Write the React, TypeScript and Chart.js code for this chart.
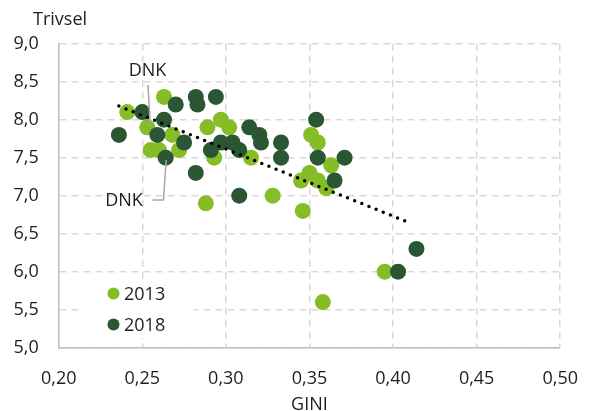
import { useEffect, useRef } from "react";
import { Chart, registerables } from "chart.js";
Chart.register(...registerables);

const gini2013 = [0.241, 0.263, 0.253, 0.268, 0.255, 0.260, 0.272, 0.289, 0.297, 0.302, 0.288, 0.315, 0.293, 0.328, 0.351, 0.355, 0.363, 0.345, 0.350, 0.355, 0.360, 0.346, 0.395, 0.358];
const trivsel2013 = [8.1, 8.3, 7.9, 7.8, 7.6, 7.6, 7.6, 7.9, 8.0, 7.9, 6.9, 7.5, 7.5, 7.0, 7.8, 7.7, 7.4, 7.2, 7.3, 7.2, 7.1, 6.8, 6.0, 5.6];
const gini2018 = [0.250, 0.236, 0.270, 0.282, 0.283, 0.294, 0.263, 0.259, 0.275, 0.264, 0.282, 0.308, 0.314, 0.291, 0.297, 0.304, 0.308, 0.320, 0.321, 0.333, 0.333, 0.354, 0.355, 0.371, 0.365, 0.414, 0.403];
const trivsel2018 = [8.1, 7.8, 8.2, 8.3, 8.2, 8.3, 8.0, 7.8, 7.7, 7.5, 7.3, 7.0, 7.9, 7.6, 7.7, 7.7, 7.6, 7.8, 7.7, 7.7, 7.5, 8.0, 7.5, 7.5, 7.2, 6.3, 6.0];
const trendGini = [0.236, 0.408];
const trendTrivsel = [8.18, 6.66];
const seriesLabels = ["2013", "2018"];
const dnkIndex2013 = 2;
const dnkIndex2018 = 9;

const LIGHT = "#86bc25";
const DARK = "#2a5634";
const TEXT = "#1e1e1e";
const FONT = "'Open Sans', sans-serif";

export default function App() {
  const ref = useRef<HTMLCanvasElement>(null);
  useEffect(() => {
    const overlay = {
      id: "overlay",
      afterDatasetsDraw(chart: any) {
        const ctx = chart.ctx;
        const xs = chart.scales.x;
        const ys = chart.scales.y;
        ctx.save();
        // legend box
        ctx.fillStyle = "#ffffff";
        ctx.fillRect(78, 280, 115, 58);
        const legendItems = [
          { label: seriesLabels[0], color: LIGHT, y: 293.5 },
          { label: seriesLabels[1], color: DARK, y: 324.5 },
        ];
        ctx.font = `18px ${FONT}`;
        ctx.textBaseline = "middle";
        ctx.textAlign = "left";
        for (const it of legendItems) {
          ctx.fillStyle = it.color;
          ctx.beginPath();
          ctx.arc(113.5, it.y, 6, 0, Math.PI * 2);
          ctx.fill();
          ctx.fillStyle = TEXT;
          ctx.fillText(it.label, 124, it.y + 1);
        }
        // DNK annotations
        const p13x = xs.getPixelForValue(gini2013[dnkIndex2013]);
        const p13y = ys.getPixelForValue(trivsel2013[dnkIndex2013]);
        const p18x = xs.getPixelForValue(gini2018[dnkIndex2018]);
        const p18y = ys.getPixelForValue(trivsel2018[dnkIndex2018]);
        ctx.strokeStyle = "#a6a6a6";
        ctx.lineWidth = 1.5;
        ctx.beginPath();
        ctx.moveTo(148, 85);
        ctx.lineTo(p13x + 3, p13y - 1);
        ctx.stroke();
        ctx.beginPath();
        ctx.moveTo(152.5, 200);
        ctx.lineTo(163.5, 200);
        ctx.lineTo(p18x + 0.5, p18y + 2);
        ctx.stroke();
        ctx.fillStyle = TEXT;
        ctx.textAlign = "center";
        ctx.fillText("DNK", 147.5, 70.5);
        ctx.fillText("DNK", 124, 200.5);
        // axis titles
        ctx.textAlign = "left";
        ctx.fillText("Trivsel", 33, 19.5);
        ctx.textAlign = "center";
        ctx.fillText("GINI", (xs.left + xs.right) / 2, 405);
        ctx.restore();
      },
    };

    const chart = new Chart(ref.current!, {
      type: "scatter",
      data: {
        datasets: [
          {
            type: "line",
            label: "trend",
            data: trendGini.map((g, i) => ({ x: g, y: trendTrivsel[i] })),
            borderColor: "#000000",
            borderWidth: 3.5,
            borderDash: [0, 7.7],
            borderCapStyle: "round",
            pointRadius: 0,
            fill: false,
            order: 0,
          } as any,
          {
            label: seriesLabels[1],
            data: gini2018.map((g, i) => ({ x: g, y: trivsel2018[i] })),
            backgroundColor: DARK,
            borderWidth: 0,
            pointRadius: 8,
            order: 1,
          },
          {
            label: seriesLabels[0],
            data: gini2013.map((g, i) => ({ x: g, y: trivsel2013[i] })),
            backgroundColor: LIGHT,
            borderWidth: 0,
            pointRadius: 8,
            order: 2,
          },
        ],
      },
      plugins: [overlay],
      options: {
        animation: false,
        responsive: false,
        maintainAspectRatio: false,
        events: [],
        layout: { padding: { top: 43.7, right: 35.3, left: 0, bottom: 0 } },
        plugins: { legend: { display: false }, tooltip: { enabled: false } },
        scales: {
          x: {
            type: "linear",
            min: 0.2,
            max: 0.5,
            afterFit: (s: any) => { s.height = 411 - 347.7; },
            ticks: {
              stepSize: 0.05,
              padding: 20,
              color: TEXT,
              font: { family: FONT, size: 18 },
              callback: (v: any) => Number(v).toFixed(2).replace(".", ","),
            },
            grid: { color: "#d9d9d9", lineWidth: 1.5, drawTicks: false },
            border: { display: true, color: "#bfbfbf", width: 1.5, dash: [7, 5] },
          },
          y: {
            type: "linear",
            min: 5,
            max: 9,
            afterFit: (s: any) => { s.width = 58.7; },
            ticks: {
              stepSize: 0.5,
              padding: 20,
              color: TEXT,
              font: { family: FONT, size: 18 },
              callback: (v: any) => Number(v).toFixed(1).replace(".", ","),
            },
            grid: { color: "#d9d9d9", lineWidth: 1.5, drawTicks: false },
            border: { display: true, color: "#bfbfbf", width: 1.5, dash: [7, 5] },
          },
        },
      },
    });
    return () => chart.destroy();
  }, []);
  return (
    <div style={{ position: "fixed", left: 0, top: 0, width: 598, height: 411, background: "#fff" }}>
      <canvas ref={ref} width={598} height={411} style={{ width: 598, height: 411, display: "block" }} />
    </div>
  );
}
